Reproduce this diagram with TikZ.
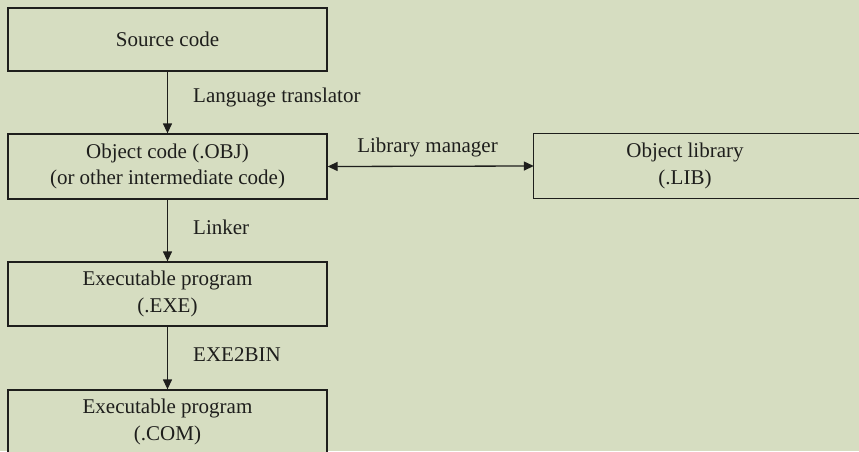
\documentclass[tikz,border=0pt]{standalone}
\usepackage{fontspec}
\setmainfont{Liberation Serif}
\usetikzlibrary{arrows.meta}
\definecolor{paper}{RGB}{214,221,193}
\definecolor{ink}{RGB}{30,30,28}
\begin{document}
\begin{tikzpicture}[x=1pt,y=-1pt,
  txt/.style={font=\fontsize{21}{26.5}\selectfont,text=ink},
  stagebox/.style={txt,draw=ink,line width=1.3pt,fill=paper,align=center,
    minimum width=319pt,inner sep=0pt},
  plain/.style={txt,align=center,inner sep=0pt},
  tool/.style={txt,anchor=west,inner sep=0pt},
  tip/.tip={Triangle[length=10pt,width=9pt]},
  flow/.style={draw=ink,line width=1.3pt,-tip},
  both/.style={draw=ink,line width=1.3pt,tip-tip}]
\useasboundingbox (0,0) rectangle (859,451);
\fill[paper] (0,0) rectangle (859,451);
\clip (0,0) rectangle (859,451);

% stages of the build chain
\node[stagebox,minimum height=63pt] (src) at (167.5,39.5) {Source code};
\node[stagebox,minimum height=65pt] (obj) at (167.5,166.5)
  {Object code (.OBJ)\\(or other intermediate code)};
\node[stagebox,minimum height=64pt] (exe) at (167.5,294)
  {Executable program\\(.EXE)};
\node[stagebox,minimum height=64pt] (com) at (167.5,422)
  {Executable program\\(.COM)};

% library box runs off the right edge
\node[plain,minimum width=302pt,minimum height=64pt] (lib) at (685,166)
  {Object library\\(.LIB)};
\draw[ink,line width=1.3pt] (lib.north west) rectangle ([xshift=60pt]lib.south east);

% tools between stages
\draw[flow] (src) -- (obj);
\draw[flow] (obj) -- (exe);
\draw[flow] (exe) -- (com);
\draw[both] (obj.east) -- (lib.west);

\node[tool] (lt) at (193,97) {Language translator};
\node[tool] (lk) at (193,227) {Linker};
\node[tool] (eb) at (193,355) {EXE2BIN};
\node[plain] (lm) at (427.5,147) {Library manager};
\end{tikzpicture}
\end{document}
